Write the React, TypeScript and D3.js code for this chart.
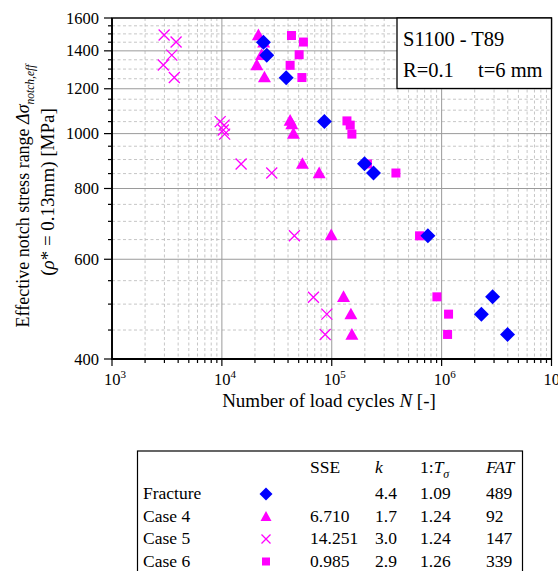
import React, { useEffect } from "react";
import * as d3 from "d3";

// S-N data: N = load cycles, S = notch stress range [MPa]
const fractureN = [23900, 25600, 38500, 85700, 198600, 239900, 750000, 2910000, 2300000, 3980000];
const fractureS = [1450, 1375, 1255, 1050, 885, 852, 660, 515, 480, 442];

const case4N = [21500, 24000, 23000, 20800, 24400, 41800, 43300, 44800, 54100, 76800, 98900, 128000, 149400, 152500];
const case4S = [1493, 1450, 1378, 1322, 1258, 1055, 1040, 1000, 885, 852, 662, 515, 480, 442];

const case5N = [2980, 3830, 3500, 2930, 3690, 9650, 10480, 10300, 10600, 14960, 28440, 45700, 68100, 90200, 87100];
const case5S = [1493, 1451, 1376, 1322, 1256, 1050, 1035, 1015, 998, 884, 852, 660, 514, 480, 442];

const case6N = [43000, 55200, 50500, 41800, 53500, 137500, 147300, 152500, 211300, 383700, 629600, 906000, 1156000, 1133000];
const case6S = [1490, 1451, 1378, 1320, 1256, 1053, 1035, 998, 884, 852, 660, 515, 480, 442];

const xDecades = [3, 4, 5, 6, 7];
const yMajor = [400, 600, 800, 1000, 1200, 1400, 1600];

// legend table
const tableNames = ["Fracture", "Case 4", "Case 5", "Case 6"];
const tableSSE = ["", "6.710", "14.251", "0.985"];
const tableK = ["4.4", "1.7", "3.0", "2.9"];
const tableT = ["1.09", "1.24", "1.24", "1.26"];
const tableFAT = ["489", "92", "147", "339"];

const BLUE = "#0000ff";
const MAG = "#ff00ff";
const FONT = "'Liberation Serif', serif";

const left = 112, right = 551.5, top = 18, bottom = 359;

function Diamond({ x, y, r = 7.5 }: { x: number; y: number; r?: number }) {
  return <path d={`M${x},${y - r}L${x + r},${y}L${x},${y + r}L${x - r},${y}Z`} fill={BLUE} />;
}
function Tri({ x, y, s = 6.5 }: { x: number; y: number; s?: number }) {
  return <path d={`M${x},${y - s}L${x + s},${y + s * 0.8}L${x - s},${y + s * 0.8}Z`} fill={MAG} />;
}
function Cross({ x, y, s = 5.5 }: { x: number; y: number; s?: number }) {
  return <path d={`M${x - s},${y - s}L${x + s},${y + s}M${x - s},${y + s}L${x + s},${y - s}`} stroke={MAG} strokeWidth={1.3} fill="none" />;
}
function Sq({ x, y, s = 4.5 }: { x: number; y: number; s?: number }) {
  return <rect x={x - s} y={y - s} width={2 * s} height={2 * s} fill={MAG} />;
}

export default function App() {
  useEffect(() => {
    document.body.style.margin = "0";
  }, []);

  const x = d3.scaleLog().domain([1e3, 1e7]).range([left, right]);
  const y = d3.scaleLog().domain([400, 1600]).range([bottom, top]);

  const xMinor: number[] = [];
  for (let d = 3; d < 7; d++) for (let m = 2; m <= 9; m++) xMinor.push(m * Math.pow(10, d));
  const yMinor = d3.range(450, 1600, 50).filter((v) => v % 200 !== 0);

  const rowY = [499, 521.5, 544, 566.5];

  return (
    <svg width={558} height={571} style={{ position: "absolute", left: 0, top: 0 }} fontFamily={FONT}>
      <rect width={558} height={571} fill="white" />
      {/* minor grid */}
      {xMinor.map((v) => (
        <line key={"xm" + v} x1={x(v)} x2={x(v)} y1={top} y2={bottom} stroke="#b8b8b8" strokeWidth={0.8} strokeDasharray="3,2.5" />
      ))}
      {yMinor.map((v) => (
        <line key={"ym" + v} x1={left} x2={right} y1={y(v)} y2={y(v)} stroke="#b8b8b8" strokeWidth={0.8} strokeDasharray="3,2.5" />
      ))}
      {/* major grid */}
      {xDecades.map((d) => (
        <line key={"xg" + d} x1={x(Math.pow(10, d))} x2={x(Math.pow(10, d))} y1={top} y2={bottom} stroke="#9a9a9a" strokeWidth={1} />
      ))}
      {yMajor.map((v) => (
        <line key={"yg" + v} x1={left} x2={right} y1={y(v)} y2={y(v)} stroke="#9a9a9a" strokeWidth={1} />
      ))}

      {/* ticks */}
      {xMinor.map((v) => (
        <line key={"xt" + v} x1={x(v)} x2={x(v)} y1={bottom} y2={bottom + 4} stroke="black" strokeWidth={1.2} />
      ))}
      {xDecades.map((d) => (
        <line key={"xT" + d} x1={x(Math.pow(10, d))} x2={x(Math.pow(10, d))} y1={bottom} y2={bottom + 7} stroke="black" strokeWidth={1.2} />
      ))}
      {yMinor.map((v) => (
        <line key={"yt" + v} x1={left - 4} x2={left} y1={y(v)} y2={y(v)} stroke="black" strokeWidth={1.2} />
      ))}
      {yMajor.map((v) => (
        <line key={"yT" + v} x1={left - 8} x2={left} y1={y(v)} y2={y(v)} stroke="black" strokeWidth={1.2} />
      ))}

      {/* tick labels */}
      {yMajor.map((v) => (
        <text key={"yl" + v} x={99} y={y(v) + 5.5} textAnchor="end" fontSize={16.5}>{v}</text>
      ))}
      {xDecades.map((d) => (
        <text key={"xl" + d} x={x(Math.pow(10, d)) + 3} y={385} textAnchor="middle" fontSize={16.5}>
          10<tspan fontSize={11} dy={-7}>{d}</tspan>
        </text>
      ))}

      {/* data */}
      {case5N.map((n, i) => <Cross key={"c5" + i} x={x(n)} y={y(case5S[i])} />)}
      {case6N.map((n, i) => <Sq key={"c6" + i} x={x(n)} y={y(case6S[i])} />)}
      {case4N.map((n, i) => <Tri key={"c4" + i} x={x(n)} y={y(case4S[i])} />)}
      {fractureN.map((n, i) => <Diamond key={"fr" + i} x={x(n)} y={y(fractureS[i])} />)}

      {/* frame */}
      <rect x={left} y={top} width={right - left} height={bottom - top} fill="none" stroke="black" strokeWidth={1.3} />
      <line x1={left} x2={left} y1={top} y2={bottom + 0.7} stroke="black" strokeWidth={1.8} />
      <line x1={left - 0.5} x2={right} y1={bottom} y2={bottom} stroke="black" strokeWidth={1.8} />

      {/* annotation box */}
      <rect x={397} y={top} width={right - 397} height={70.5} fill="white" stroke="black" strokeWidth={1.3} />
      <text x={403} y={46} fontSize={20.5}>S1100 - T89</text>
      <text x={403} y={77} fontSize={20.5}>R=0.1</text>
      <text x={478} y={77} fontSize={20.5}>t=6 mm</text>

      {/* axis titles */}
      <text x={329} y={407} textAnchor="middle" fontSize={19}>
        Number of load cycles <tspan fontStyle="italic">N</tspan> [-]
      </text>
      <text transform="translate(29,196) rotate(-90)" textAnchor="middle" fontSize={18}>
        Effective notch stress range <tspan fontStyle="italic">Δσ</tspan>
        <tspan fontStyle="italic" fontSize={11.5} dy={5}>notch,eff</tspan>
      </text>
      <text transform="translate(54,192) rotate(-90)" textAnchor="middle" fontSize={19}>
        (<tspan fontStyle="italic">ρ</tspan>* = 0.13mm) [MPa]
      </text>

      {/* legend table */}
      <rect x={137.5} y={451} width={385} height={140} fill="white" stroke="black" strokeWidth={1.2} />
      <text x={310} y={473} fontSize={17.5}>SSE</text>
      <text x={375} y={473} fontSize={17.5} fontStyle="italic">k</text>
      <text x={420} y={473} fontSize={17.5}>1:<tspan fontStyle="italic">T</tspan><tspan fontStyle="italic" fontSize={12} dy={5}>σ</tspan></text>
      <text x={486} y={473} fontSize={17.5} fontStyle="italic">FAT</text>
      {tableNames.map((name, i) => (
        <g key={"row" + i}>
          <text x={143} y={rowY[i]} fontSize={17.5}>{name}</text>
          <text x={310} y={rowY[i]} fontSize={17.5}>{tableSSE[i]}</text>
          <text x={375} y={rowY[i]} fontSize={17.5}>{tableK[i]}</text>
          <text x={420} y={rowY[i]} fontSize={17.5}>{tableT[i]}</text>
          <text x={486} y={rowY[i]} fontSize={17.5}>{tableFAT[i]}</text>
        </g>
      ))}
      <Diamond x={266} y={rowY[0] - 5} r={6.5} />
      <Tri x={266} y={rowY[1] - 5} s={5.5} />
      <Cross x={266} y={rowY[2] - 5} s={4.5} />
      <Sq x={266} y={rowY[3] - 5} s={4} />
    </svg>
  );
}
